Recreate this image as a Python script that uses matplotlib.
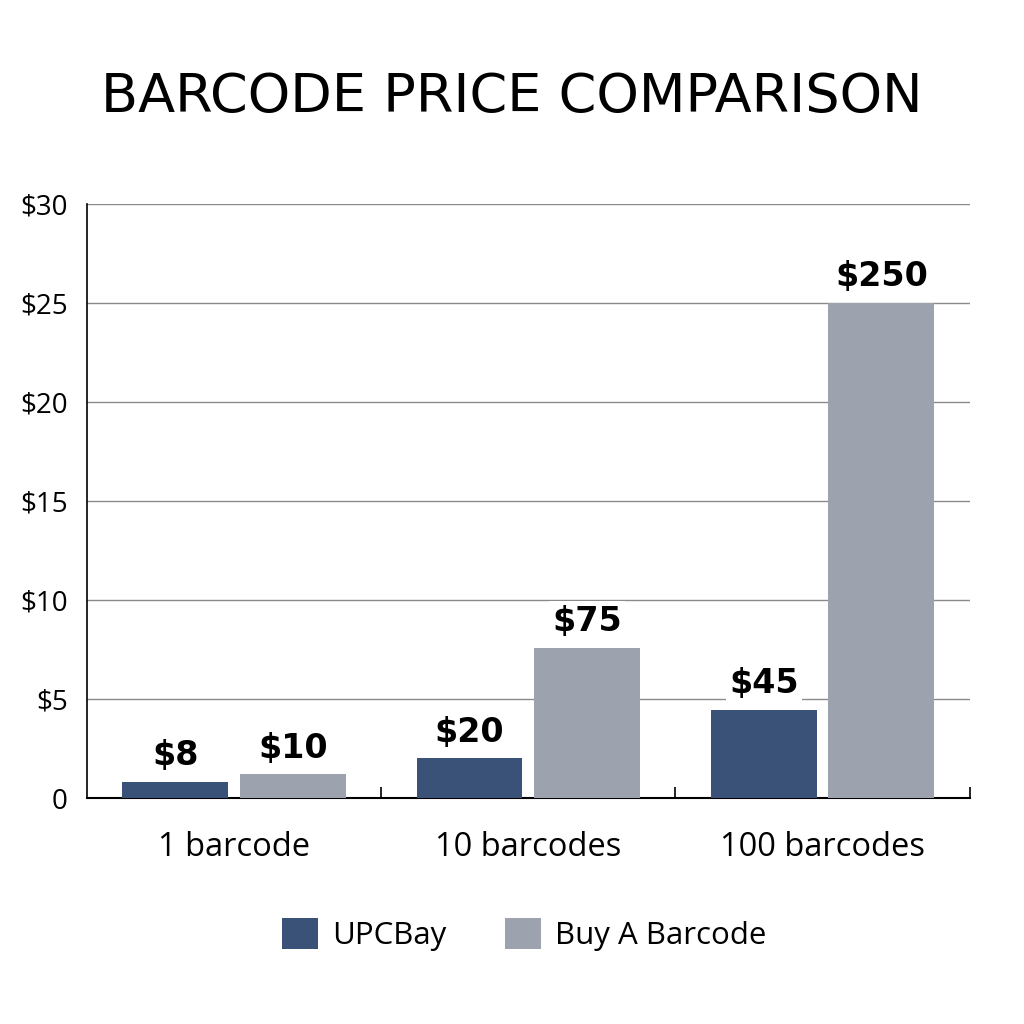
import matplotlib
matplotlib.use("Agg")
import matplotlib.pyplot as plt
import numpy as np

categories = ["1 barcode", "10 barcodes", "100 barcodes"]
series_names = ["UPCBay", "Buy A Barcode"]
upcbay_heights = [0.8, 2.0, 4.45]
buy_heights = [1.2, 7.6, 25.0]
upcbay_labels = ["$8", "$20", "$45"]
buy_labels = ["$10", "$75", "$250"]
yticks = [0, 5, 10, 15, 20, 25, 30]
ytick_labels = ["0", "$5", "$10", "$15", "$20", "$25", "$30"]

c_up = "#3a5277"
c_buy = "#9ca3ae"

plt.rcParams['font.family'] = ['Open Sans', 'DejaVu Sans']

fig = plt.figure(figsize=(10.24, 10.24), dpi=100)
ax = fig.add_axes([0.085, 0.2207, 0.862, 0.5800])

x = np.arange(len(categories))
w = 0.36
b1 = ax.bar(x - 0.2, upcbay_heights, w, color=c_up, label=series_names[0], zorder=3)
b2 = ax.bar(x + 0.2, buy_heights, w, color=c_buy, label=series_names[1], zorder=3)

for rects, labs in ((b1, upcbay_labels), (b2, buy_labels)):
    for r, lab in zip(rects, labs):
        ax.annotate(lab, (r.get_x() + r.get_width() / 2, r.get_height()),
                    xytext=(0, 7), textcoords="offset points", ha="center", va="bottom",
                    fontsize=24, fontweight="bold", family=['DejaVu Sans'], color="black",
                    bbox=dict(boxstyle="square,pad=0.1", fc="white", ec="none"), zorder=4)

ax.set_xlim(-0.5, 2.5)
ax.set_ylim(0, 30)
ax.set_yticks(yticks)
ax.set_yticklabels(ytick_labels, fontsize=20)
ax.yaxis.grid(True, color="#8a8a8a", linewidth=1.0, zorder=0)
ax.set_axisbelow(True)
ax.tick_params(axis="y", length=0, pad=14)

ax.set_xticks(x)
ax.set_xticklabels(categories, fontsize=23.5)
ax.tick_params(axis="x", length=0, pad=24)
ax.set_xticks([0.5, 1.5, 2.5], minor=True)
ax.tick_params(axis="x", which="minor", direction="in", length=8, width=1.2, color="black")

for s in ("top", "right"):
    ax.spines[s].set_visible(False)
ax.spines["left"].set_color("black")
ax.spines["bottom"].set_color("black")
ax.spines["bottom"].set_linewidth(1.5)
ax.spines["left"].set_linewidth(1.2)

fig.text(0.5, 0.905, "BARCODE PRICE COMPARISON", ha="center", va="center",
         fontsize=39, family=['DejaVu Sans'], color="black")

fig.legend(handles=[b1, b2], labels=series_names, loc="center", bbox_to_anchor=(0.512, 0.087),
           ncol=2, frameon=False, fontsize=22.5, handlelength=1.15, handleheight=1.15,
           columnspacing=1.9, handletextpad=0.45)

fig.savefig("out.png", dpi=100, facecolor="white")
